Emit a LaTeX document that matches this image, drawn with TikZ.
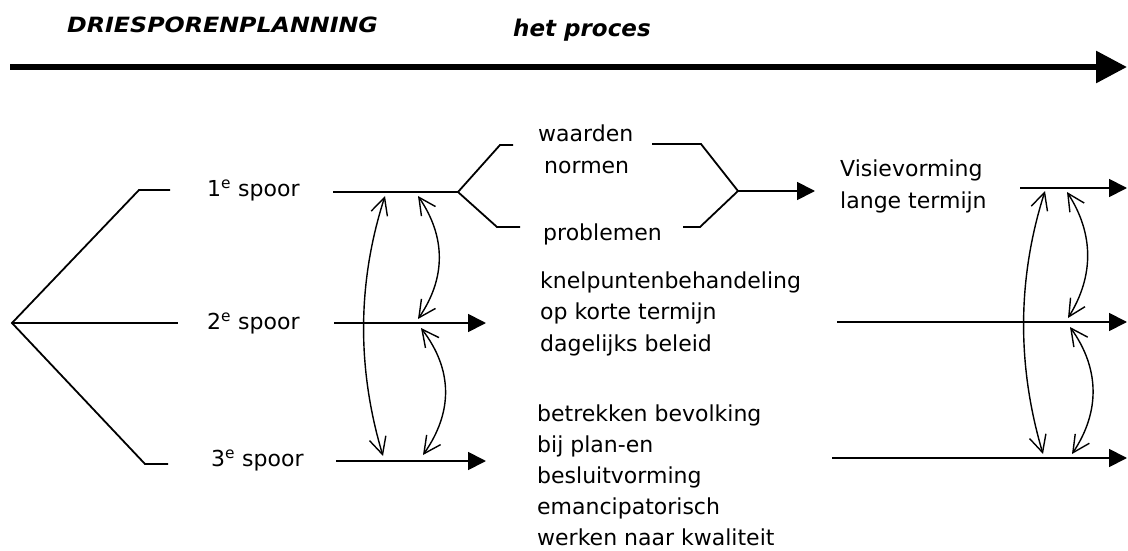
\documentclass[tikz,border=0pt]{standalone}
\usepackage{fontspec}
\setmainfont{DejaVu Sans}
\newfontfamily\widebold[FakeStretch=1.13]{DejaVu Sans}
\usetikzlibrary{arrows.meta}
\begin{document}
\begin{tikzpicture}[x=1pt,y=-1pt,
  line/.style={line width=1.8pt},
  solidhead/.style={line width=1.8pt,-{Triangle[length=18pt,width=18pt]}},
  link/.style={line width=1.4pt,{Straight Barb[length=17pt,width=17pt]}-{Straight Barb[length=17pt,width=17pt]}},
  lbl/.style={anchor=base west,inner sep=0pt,font=\fontsize{22}{31}\selectfont,align=left},
  heading/.style={anchor=base west,inner sep=0pt,font=\fontsize{23}{26}\selectfont\bfseries\itshape}]
\useasboundingbox (0,0) rectangle (1128,551);

% headings and the process arrow
\node[heading,font=\widebold\fontsize{21}{26}\selectfont\bfseries\itshape] (title) at (67,33) {DRIESPORENPLANNING};
\node[heading] (proc) at (513,37) {het proces};
\coordinate (pstart) at (10,67);
\coordinate (pend) at (1127,67);
\draw[line width=6pt,-{Triangle[length=31pt,width=31pt]}] (pstart) -- (pend);

% the three tracks branching from one root
\coordinate (root) at (12,323);
\coordinate (b1) at (139,190); \coordinate (e1) at (170,190);
\coordinate (e2) at (178,323);
\coordinate (b3) at (145,464); \coordinate (e3) at (168,464);
\draw[line] (e1) -- (b1) -- (root) -- (b3) -- (e3);
\draw[line] (root) -- (e2);

\node[lbl] (s1) at (207,196) {1\textsuperscript{e} spoor};
\node[lbl] (s2) at (207,329) {2\textsuperscript{e} spoor};
\node[lbl] (s3) at (211,466) {3\textsuperscript{e} spoor};

% track 1: values, norms and problems feeding long-term vision
\coordinate (t1a) at (333,192);
\coordinate (fk) at (458,192);
\coordinate (ua) at (500,145); \coordinate (ub) at (513,145);
\coordinate (la) at (497,227); \coordinate (lb) at (520,227);
\coordinate (uc) at (652,144); \coordinate (ud) at (701,144);
\coordinate (lc) at (683,227); \coordinate (ld) at (700,227);
\coordinate (jn) at (738,191);
\coordinate (t1e) at (815,191);
\draw[line] (t1a) -- (fk);
\draw[line] (ub) -- (ua) -- (fk) -- (la) -- (lb);
\draw[line] (uc) -- (ud) -- (jn) -- (ld) -- (lc);
\draw[solidhead] (jn) -- (t1e);

\node[lbl] (waarden) at (538,142) {waarden};
\node[lbl] (normen) at (544,173) {normen};
\node[lbl] (problemen) at (543,240) {problemen};
% multi-line labels: the base anchor sits on the last line
\node[lbl,font=\fontsize{22}{32}\selectfont] (visie) at (840,208) {Visievorming\\lange termijn};

% tracks 2 and 3
\coordinate (t2a) at (334,323); \coordinate (t2e) at (486,323);
\coordinate (t3a) at (336,461); \coordinate (t3e) at (486,461);
\draw[solidhead] (t2a) -- (t2e);
\draw[solidhead] (t3a) -- (t3e);

\node[lbl,font=\fontsize{22}{31.5}\selectfont] (knel) at (540,351)
  {knelpuntenbehandeling\\op korte termijn\\dagelijks beleid};
\node[lbl] (betr) at (537,545)
  {betrekken bevolking\\bij plan-en\\besluitvorming\\emancipatorisch\\werken naar kwaliteit};

% continuation on the right
\coordinate (r1a) at (1020,188); \coordinate (r1e) at (1127,188);
\coordinate (r2a) at (837,322); \coordinate (r2e) at (1127,322);
\coordinate (r3a) at (832,458); \coordinate (r3e) at (1127,458);
\draw[solidhead] (r1a) -- (r1e);
\draw[solidhead] (r2a) -- (r2e);
\draw[solidhead] (r3a) -- (r3e);

% interaction between the tracks (left)
\coordinate (la1) at (385,196); \coordinate (la3) at (383,456);
\coordinate (ls1) at (418,196); \coordinate (ls2) at (418,319);
\coordinate (lt2) at (421,328); \coordinate (lt3) at (423,455);
\draw[link] (la1) .. controls (357,283) and (357,369) .. (la3);
\draw[link] (ls1) .. controls (446,237) and (446,278) .. (ls2);
\draw[link] (lt2) .. controls (453,370) and (453,412) .. (lt3);

% interaction between the tracks (right)
\coordinate (ra1) at (1045,191); \coordinate (ra3) at (1043,454);
\coordinate (rs1) at (1067,192); \coordinate (rs2) at (1068,318);
\coordinate (rt2) at (1070,327); \coordinate (rt3) at (1072,454);
\draw[link] (ra1) .. controls (1017,279) and (1017,366) .. (ra3);
\draw[link] (rs1) .. controls (1094,234) and (1094,276) .. (rs2);
\draw[link] (rt2) .. controls (1100,369) and (1100,412) .. (rt3);
\end{tikzpicture}
\end{document}
